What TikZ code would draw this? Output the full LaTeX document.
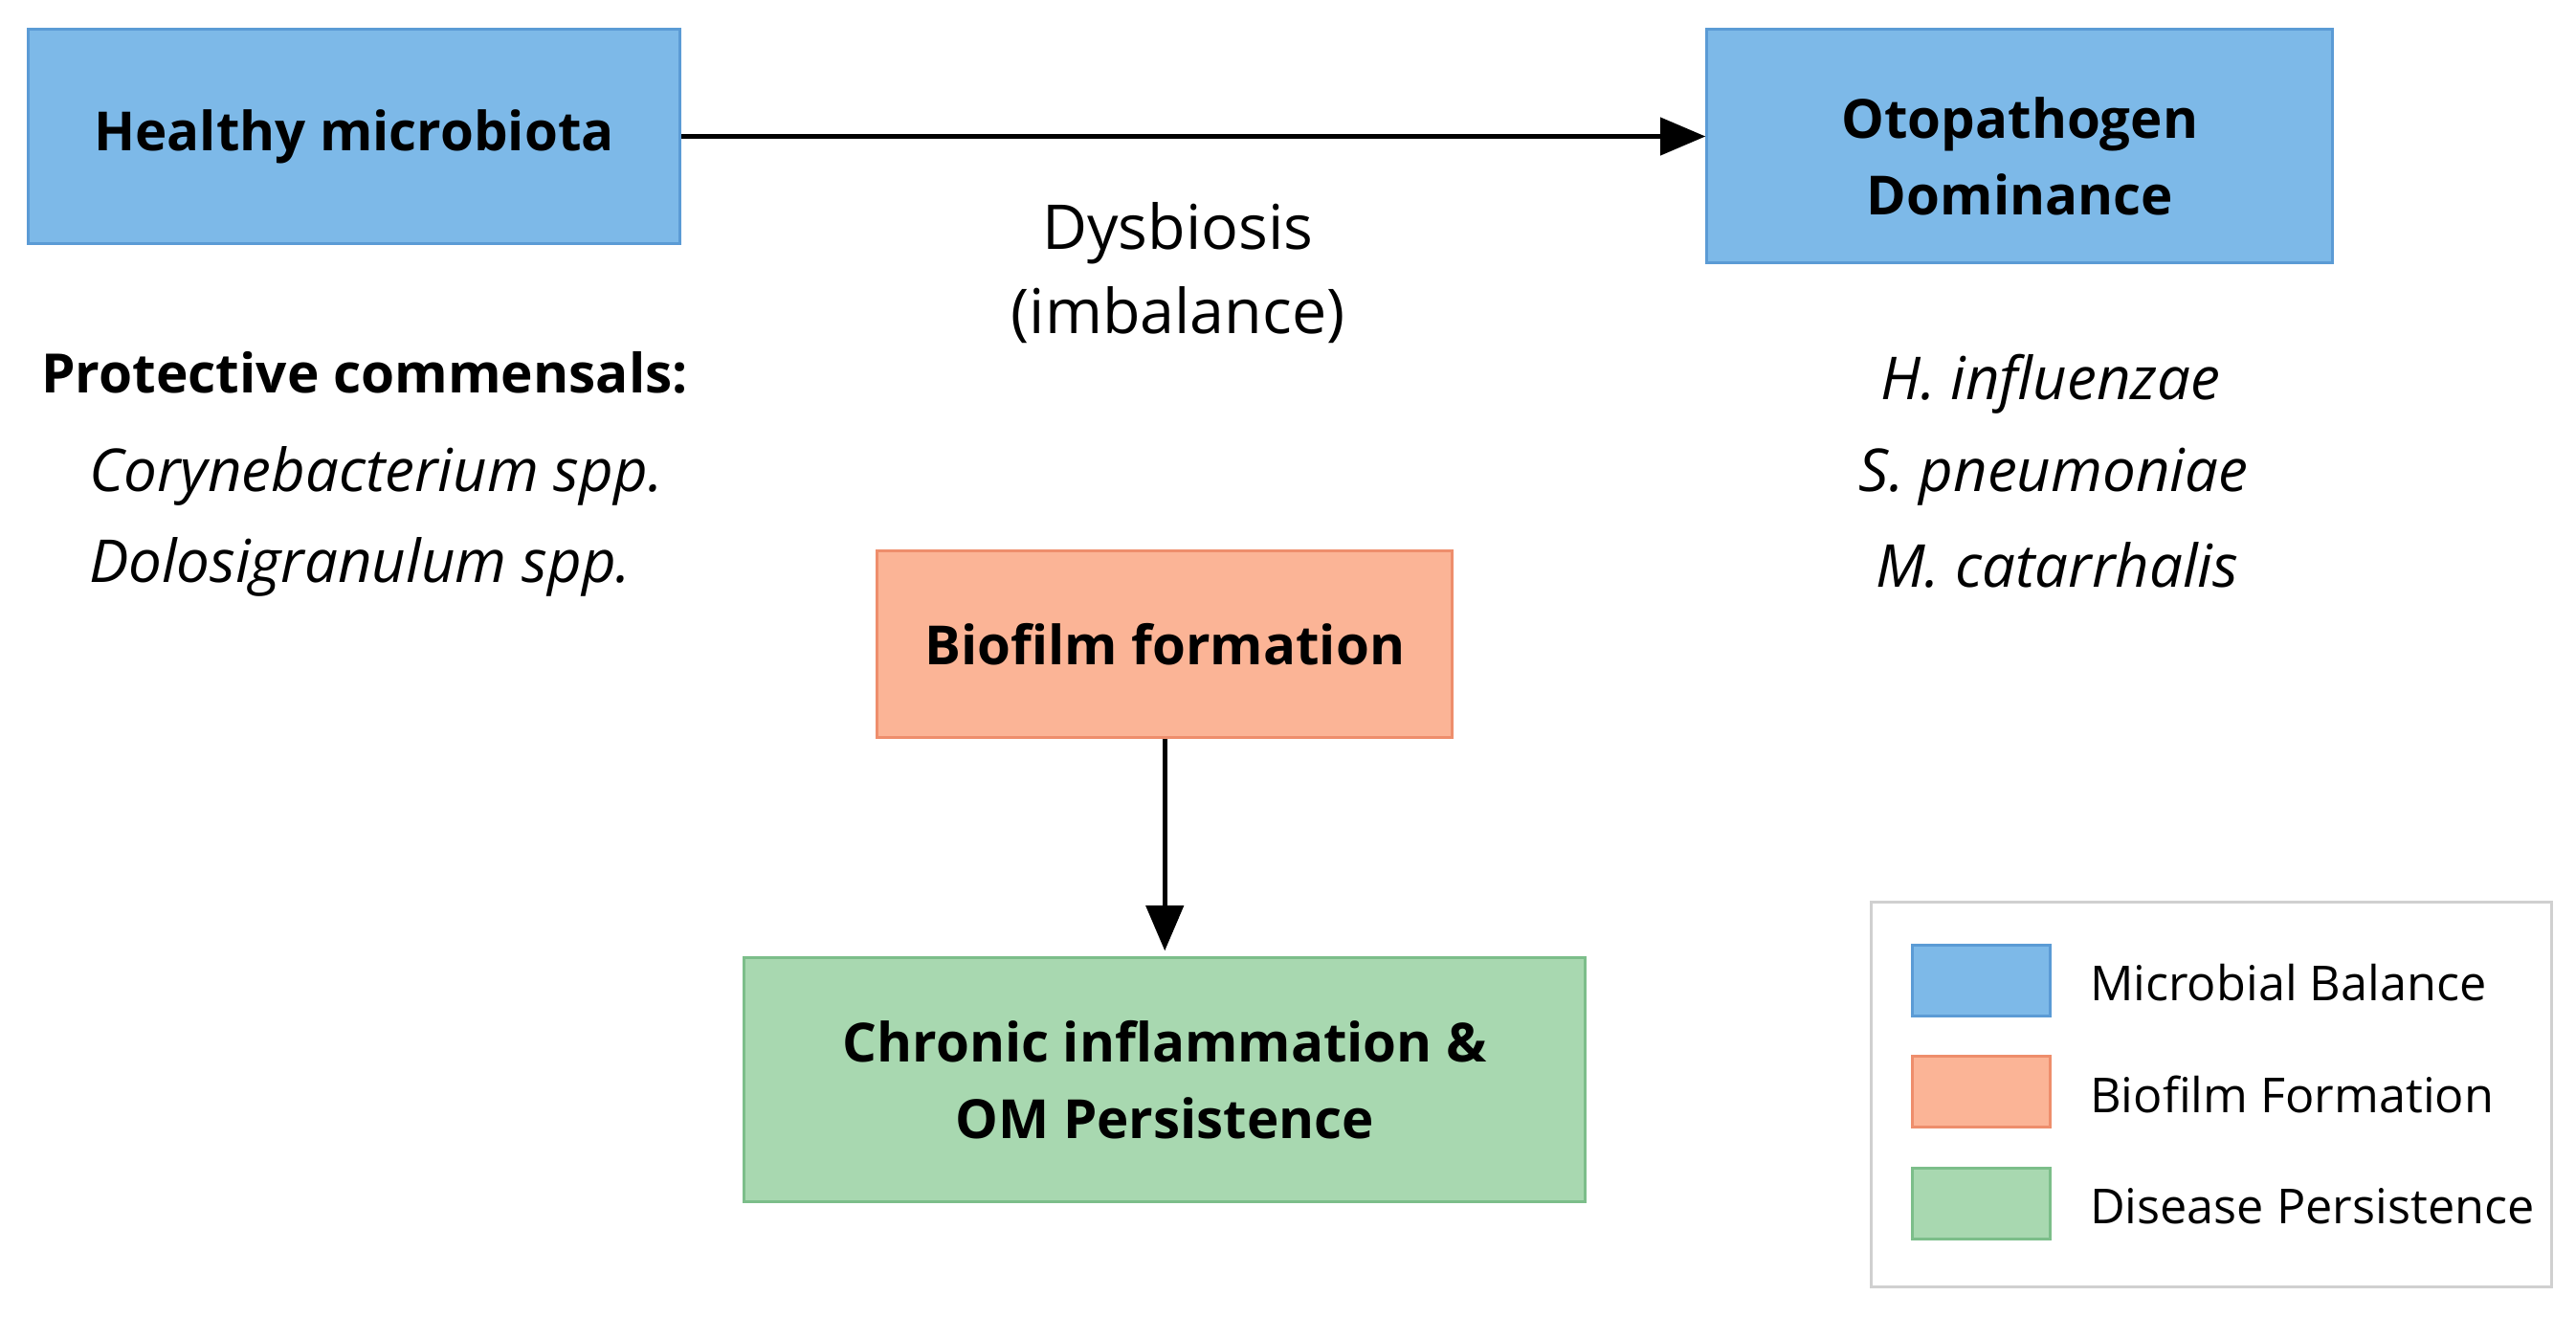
\documentclass[tikz,border=0pt]{standalone}
\usepackage{fontspec}
\setmainfont{Open Sans}
\usetikzlibrary{arrows.meta}

\definecolor{balanceFill}{HTML}{7DB9E8}
\definecolor{balanceLine}{HTML}{5B9BD5}
\definecolor{biofilmFill}{HTML}{FBB496}
\definecolor{biofilmLine}{HTML}{EE8E6C}
\definecolor{diseaseFill}{HTML}{A8D8B0}
\definecolor{diseaseLine}{HTML}{7CBE8A}
\definecolor{legendLine}{HTML}{D0D0D0}

\tikzset{
  stagebox/.style={draw, line width=1pt, align=center, inner sep=0pt,
    font=\bfseries\fontsize{18.7}{26.5}\selectfont},
  balance/.style={stagebox, fill=balanceFill, draw=balanceLine},
  biofilm/.style={stagebox, fill=biofilmFill, draw=biofilmLine},
  disease/.style={stagebox, fill=diseaseFill, draw=diseaseLine},
  swatch/.style={draw, line width=1pt, minimum width=1.68cm, minimum height=0.86cm, inner sep=0pt},
  legendtext/.style={anchor=west, font=\fontsize{16.7}{20}\selectfont},
  species/.style={font=\itshape\fontsize{20.5}{24}\selectfont},
  flow/.style={line width=1.8pt, -{Triangle[length=0.55cm, width=0.45cm]}}
}

\begin{document}
\begin{tikzpicture}[x=0.02cm, y=-0.02cm]
	\useasboundingbox (0,0) rectangle (1568,802);

	% Stages
	\node[balance, minimum width=7.94cm, minimum height=2.6cm] (healthy) at (215.5,83) {Healthy microbiota};
	\node[balance, minimum width=7.62cm, minimum height=2.84cm] (oto) at (1229.5,89)
		{\raisebox{-0.18cm}[\height][\depth]{\begin{tabular}{@{}c@{}}Otopathogen\\Dominance\end{tabular}}};
	\node[biofilm, minimum width=7.0cm, minimum height=2.28cm] (biofilm) at (709,392) {Biofilm formation};
	\node[disease, minimum width=10.24cm, minimum height=2.96cm] (chronic) at (709,657) {Chronic inflammation \&\\OM Persistence};

	% Arrows
	\draw[flow] (healthy.east) -- (healthy.east -| oto.west);
	\draw[flow, shorten >=2pt] (biofilm.south) -- (chronic.north);

	% Dysbiosis label
	\node[align=center, font=\fontsize{21.4}{29}\selectfont] (dysbiosis) at (717,166) {Dysbiosis\\(imbalance)};

	% Commensals
	\node[anchor=west, font=\bfseries\fontsize{18.8}{20}\selectfont] (protective) at (19,227) {Protective commensals:};
	\node[species, anchor=west] (coryne) at (48,290) {Corynebacterium spp.};
	\node[species, anchor=west] (dolosi) at (48,345) {Dolosigranulum spp.};

	% Otopathogens
	\node[species] (hinf) at (1248,234) {H. influenzae};
	\node[species] (spneu) at (1250,290) {S. pneumoniae};
	\node[species] (mcat) at (1252,344) {M. catarrhalis};

	% Legend
	\draw[legendLine, line width=1pt] (1139,549) rectangle (1553,783);
	\node[swatch, fill=balanceFill, draw=balanceLine] (keyBalance) at (1206,596.5) {};
	\node[swatch, fill=biofilmFill, draw=biofilmLine] (keyBiofilm) at (1206,664.5) {};
	\node[swatch, fill=diseaseFill, draw=diseaseLine] (keyDisease) at (1206,732.5) {};
	\node[legendtext] (txtBalance) at (1266,598) {Microbial Balance};
	\node[legendtext] (txtBiofilm) at (1266,666) {Biofilm Formation};
	\node[legendtext] (txtDisease) at (1266,734) {Disease Persistence};
\end{tikzpicture}
\end{document}
